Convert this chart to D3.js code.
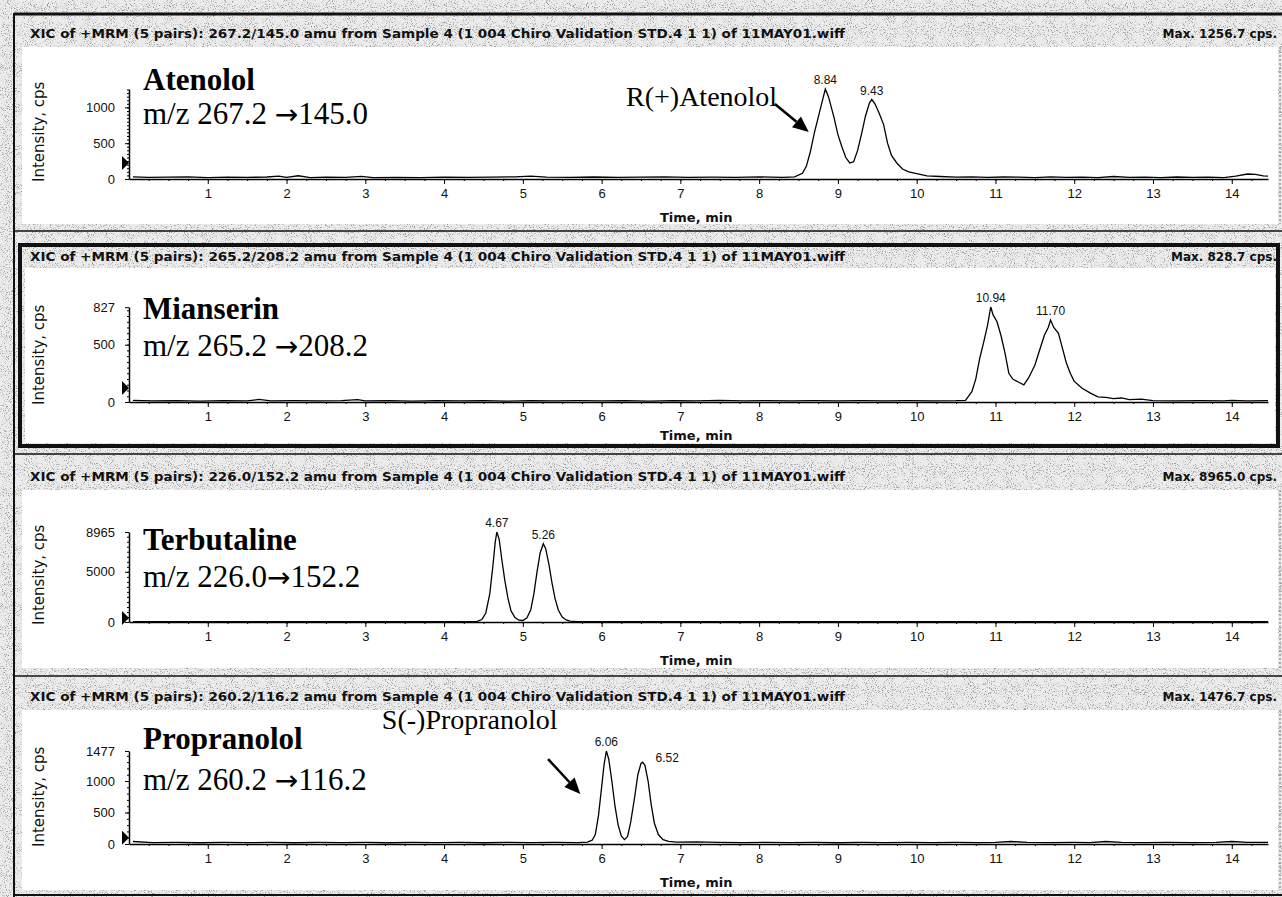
<!DOCTYPE html>
<html>
<head>
<meta charset="utf-8">
<script src="https://cdn.jsdelivr.net/npm/d3@7"></script>
<style>
  html, body { margin: 0; padding: 0; background: #fff; }
  svg { display: block; }
  .tick text { font-family: "Liberation Sans", Arial, sans-serif; font-size: 13px; fill: #111; }
  .tick line, .domain { stroke: #000; }
</style>
</head>
<body>
<div id="chart"></div>
<script>
// ---- data ----
const compounds = ["Atenolol", "Mianserin", "Terbutaline", "Propranolol"];
const transitions = ["m/z 267.2 \u2192145.0", "m/z 265.2 \u2192208.2", "m/z 226.0\u2192152.2", "m/z 260.2 \u2192116.2"];
const headerPairs = ["267.2/145.0", "265.2/208.2", "226.0/152.2", "260.2/116.2"];
const maxCps = [1256.7, 828.7, 8965.0, 1476.7];
const yTickValues = [[0, 500, 1000], [0, 500, 827], [0, 5000, 8965], [0, 500, 1000, 1477]];
const yMinorStep = [50, 50, 500, 100];
const timeTicks = [1, 2, 3, 4, 5, 6, 7, 8, 9, 10, 11, 12, 13, 14];
const timeMax = 14.46;
const thresholds = [223, 122, 400, 100];
const peakTimes = [[8.84, 9.43], [10.94, 11.70], [4.67, 5.26], [6.06, 6.52]];

const atenolol = [[0.05,30],[0.25,22],[0.5,25],[0.75,30],[1.0,20],[1.25,25],[1.5,22],[1.75,28],[1.9,40],[2.0,22],[2.15,45],[2.3,20],[2.5,25],[2.75,22],[2.95,38],[3.1,20],[3.4,24],[3.7,20],[4.0,26],[4.3,22],[4.6,25],[4.9,30],[5.1,40],[5.3,25],[5.6,22],[5.9,28],[6.2,22],[6.5,25],[6.8,30],[7.1,22],[7.4,25],[7.7,22],[8.0,30],[8.15,25],[8.3,22],[8.45,30],[8.55,80],[8.6,180],[8.65,380],[8.7,640],[8.75,860],[8.8,1080],[8.84,1256.7],[8.88,1150],[8.95,860],[9.0,620],[9.05,450],[9.1,300],[9.15,225],[9.2,240],[9.25,400],[9.3,630],[9.35,880],[9.4,1060],[9.43,1110],[9.47,1050],[9.52,930],[9.58,760],[9.63,500],[9.68,330],[9.75,220],[9.82,140],[9.9,100],[10.0,75],[10.13,45],[10.3,35],[10.5,25],[10.7,30],[10.9,22],[11.1,28],[11.3,25],[11.5,20],[11.7,30],[11.9,22],[12.1,25],[12.3,20],[12.5,35],[12.7,22],[12.9,25],[13.1,20],[13.3,28],[13.5,22],[13.7,25],[13.9,20],[14.05,40],[14.2,70],[14.3,65],[14.4,45],[14.46,40]];
const mianserin = [[0.05,15],[0.3,10],[0.6,12],[0.9,8],[1.2,12],[1.5,10],[1.65,22],[1.8,10],[2.1,12],[2.4,10],[2.7,12],[2.9,20],[3.0,10],[3.3,12],[3.6,8],[3.9,12],[4.2,10],[4.5,12],[4.8,8],[5.1,12],[5.4,10],[5.7,12],[6.0,10],[6.3,12],[6.6,8],[6.9,12],[7.2,10],[7.5,14],[7.8,10],[8.1,12],[8.4,10],[8.7,12],[9.0,10],[9.3,12],[9.6,10],[9.9,12],[10.2,10],[10.5,12],[10.62,15],[10.7,90],[10.75,200],[10.8,380],[10.85,520],[10.9,670],[10.94,828.7],[10.97,760],[11.02,700],[11.07,580],[11.12,430],[11.17,250],[11.22,200],[11.3,170],[11.36,150],[11.42,210],[11.5,320],[11.55,430],[11.62,580],[11.67,650],[11.70,715],[11.74,650],[11.8,600],[11.85,470],[11.9,340],[11.95,250],[12.0,180],[12.05,150],[12.1,120],[12.2,80],[12.3,45],[12.4,40],[12.5,30],[12.6,35],[12.7,20],[12.85,25],[13.0,12],[13.3,10],[13.6,12],[13.9,10],[14.0,15],[14.2,10],[14.46,12]];
const terbutaline = [[0.05,40],[0.4,30],[0.8,35],[1.2,30],[1.6,35],[2.0,30],[2.4,35],[2.8,30],[3.2,35],[3.6,30],[4.0,35],[4.3,30],[4.42,60],[4.48,250],[4.53,900],[4.58,2800],[4.62,5600],[4.65,8000],[4.67,8965],[4.70,8200],[4.73,6400],[4.77,4200],[4.81,2400],[4.85,1100],[4.90,450],[4.95,180],[5.00,150],[5.05,400],[5.10,1200],[5.14,2800],[5.18,5000],[5.22,6900],[5.26,7800],[5.29,7300],[5.33,5800],[5.37,3900],[5.41,2300],[5.45,1200],[5.50,500],[5.55,200],[5.60,80],[5.70,40],[6.0,30],[6.5,35],[7.0,30],[7.5,35],[8.0,30],[8.5,35],[9.0,30],[9.5,35],[10.0,30],[10.5,35],[11.0,30],[11.5,35],[12.0,30],[12.5,35],[13.0,30],[13.5,35],[14.0,30],[14.46,35]];
const propranolol = [[0.05,40],[0.3,22],[0.6,25],[0.9,20],[1.2,25],[1.5,22],[1.8,25],[2.1,20],[2.4,25],[2.7,22],[3.0,25],[3.3,20],[3.6,25],[3.9,22],[4.2,25],[4.5,20],[4.8,25],[5.1,22],[5.4,25],[5.7,22],[5.82,30],[5.88,60],[5.92,150],[5.96,450],[6.00,900],[6.03,1250],[6.06,1476.7],[6.09,1350],[6.13,1000],[6.17,600],[6.21,300],[6.25,130],[6.29,70],[6.33,120],[6.37,350],[6.42,750],[6.46,1100],[6.50,1280],[6.52,1300],[6.55,1250],[6.59,1000],[6.63,620],[6.67,330],[6.72,150],[6.78,70],[6.85,40],[6.95,30],[7.2,35],[7.5,25],[7.8,22],[8.1,25],[8.4,22],[8.7,25],[9.0,20],[9.3,25],[9.6,22],[9.9,25],[10.2,22],[10.5,25],[10.8,22],[11.0,25],[11.2,40],[11.4,25],[11.7,22],[12.0,25],[12.2,22],[12.4,40],[12.6,25],[12.9,22],[13.2,25],[13.5,22],[13.8,25],[14.0,40],[14.2,25],[14.46,25]];
const traces = [atenolol, mianserin, terbutaline, propranolol];

// annotations in data units (time, cps)
const annotations = [
	{ panel: 0, text: "R(+)Atenolol", t: 6.31, v: 1020, from: [8.20, 1047], to: [8.63, 656] },
	{ panel: 3, text: "S(-)Propranolol", t: 3.21, v: 1830, from: [5.32, 1349], to: [5.73, 794] }
];

// ---- page layout (pixels) ----
const width = 1282;
const height = 897;
const layout = [
	{ zero: 179, top: 89, header: 38, white: [47, 224], name: 90, trans: 124, timeDy: 43 },
	{ zero: 402, top: 307, header: 261, white: [268, 443], name: 319, trans: 356, timeDy: 38 },
	{ zero: 622, top: 532, header: 481, white: [490, 668], name: 550, trans: 587, timeDy: 43 },
	{ zero: 844, top: 751, header: 701, white: [710, 890], name: 749, trans: 790, timeDy: 43 }
];

const x = d3.scaleLinear().domain([0, timeMax]).range([129, 1268]);

const svg = d3.select("#chart")
	.append("svg")
	.attr("width", width)
	.attr("height", height);

// scanned-paper speckle
const defs = svg.append("defs");
const speckle = defs.append("filter").attr("id", "speckle")
	.attr("x", 0).attr("y", 0).attr("width", "100%").attr("height", "100%");
speckle.append("feTurbulence")
	.attr("type", "fractalNoise").attr("baseFrequency", 0.95)
	.attr("numOctaves", 2).attr("seed", 7);
speckle.append("feColorMatrix")
	.attr("type", "matrix")
	.attr("values", "0 0 0 0 0  0 0 0 0 0  0 0 0 0 0  5 0 0 0 -2.75");

svg.append("rect").attr("width", width).attr("height", height).attr("fill", "#ececec");
svg.append("rect").attr("width", width).attr("height", height)
	.attr("fill", "#000").attr("opacity", 0.35).attr("filter", "url(#speckle)");

// white plot areas
layout.forEach((L, i) => {
	const inset = i === 1 ? 25 : 22;
	svg.append("rect")
		.attr("x", inset).attr("y", L.white[0])
		.attr("width", 1278 - inset - (i === 1 ? 3 : 0))
		.attr("height", L.white[1] - L.white[0])
		.attr("fill", "#fff");
});

// frame lines
const frame = svg.append("g").attr("stroke", "#111").attr("fill", "none");
frame.append("line").attr("x1", 14).attr("x2", 14).attr("y1", 13).attr("y2", 897).attr("stroke-width", 2);
frame.append("line").attr("x1", 14).attr("x2", 1282).attr("y1", 14).attr("y2", 14).attr("stroke-width", 3);
frame.append("line").attr("x1", 14).attr("x2", 1282).attr("y1", 231).attr("y2", 231).attr("stroke-width", 1.5);
frame.append("rect").attr("x", 20).attr("y", 245).attr("width", 1258).attr("height", 201).attr("stroke-width", 4);
frame.append("line").attr("x1", 14).attr("x2", 1282).attr("y1", 454).attr("y2", 454).attr("stroke-width", 1.5);
frame.append("line").attr("x1", 14).attr("x2", 1282).attr("y1", 676).attr("y2", 676).attr("stroke-width", 1.5);
frame.append("line").attr("x1", 14).attr("x2", 1282).attr("y1", 895).attr("y2", 895).attr("stroke-width", 2);
[[47, 224], [490, 668], [710, 890]].forEach(r => {
	frame.append("line").attr("x1", 1280).attr("x2", 1280).attr("y1", r[0]).attr("y2", r[1])
		.attr("stroke-width", 1).attr("stroke-dasharray", "2,2").attr("stroke", "#777");
});

const line = d3.line();
const serif = "'Liberation Serif', 'Times New Roman', serif";

layout.forEach((L, i) => {
	const g = svg.append("g").attr("class", "panel");
	const y = d3.scaleLinear().domain([0, maxCps[i]]).range([L.zero, L.top]);

	// header strip
	g.append("text")
		.attr("x", 30).attr("y", L.header)
		.attr("textLength", 815).attr("lengthAdjust", "spacingAndGlyphs")
		.style("font-family", "'DejaVu Sans', sans-serif").style("font-size", "12px").style("font-weight", "bold")
		.attr("fill", "#111")
		.text(`XIC of +MRM (5 pairs): ${headerPairs[i]} amu from Sample 4 (1 004 Chiro Validation STD.4 1 1) of 11MAY01.wiff`);
	g.append("text")
		.attr("x", 1277).attr("y", L.header)
		.attr("text-anchor", "end")
		.style("font-family", "'DejaVu Sans', sans-serif").style("font-size", "12px").style("font-weight", "bold")
		.attr("fill", "#111")
		.text(`Max. ${d3.format(".1f")(maxCps[i])} cps.`);

	// x axis, major + minor ticks
	g.append("g")
		.attr("transform", `translate(0,${L.zero})`)
		.call(d3.axisBottom(x).tickValues(timeTicks).tickSize(5).tickSizeOuter(0).tickPadding(5).tickFormat(d3.format("d")))
		.call(a => a.select(".domain").attr("stroke-width", 1.5));
	g.append("g")
		.attr("transform", `translate(0,${L.zero})`)
		.call(d3.axisBottom(x).tickValues(d3.range(0.25, timeMax, 0.25)).tickSize(2).tickFormat(""))
		.call(a => a.select(".domain").remove());

	g.append("text")
		.attr("x", 660).attr("y", L.zero + L.timeDy)
		.style("font-family", "'DejaVu Sans', sans-serif").style("font-size", "13px").style("font-weight", "bold")
		.attr("fill", "#111")
		.text("Time, min");

	// y axis
	g.append("g")
		.attr("transform", `translate(${x(0)},0)`)
		.call(d3.axisLeft(y).tickValues(yTickValues[i]).tickSize(4).tickSizeOuter(0).tickPadding(10).tickFormat(d3.format("d")))
		.call(a => a.select(".domain").attr("stroke-width", 1.5));
	g.append("g")
		.attr("transform", `translate(${x(0)},0)`)
		.call(d3.axisLeft(y).tickValues(d3.range(yMinorStep[i], maxCps[i], yMinorStep[i])).tickSize(2).tickFormat(""))
		.call(a => a.select(".domain").remove());

	g.append("text")
		.attr("transform", `translate(44,${L.zero + 3}) rotate(-90)`)
		.style("font-family", "'DejaVu Sans', sans-serif").style("font-size", "15px")
		.attr("fill", "#111")
		.text("Intensity, cps");

	// threshold marker
	const ty = y(thresholds[i]);
	g.append("path")
		.attr("d", `M${x(0) - 7},${ty - 7}L${x(0)},${ty}L${x(0) - 7},${ty + 7}Z`)
		.attr("fill", "#000");

	// chromatogram trace
	g.append("path")
		.datum(traces[i])
		.attr("fill", "none")
		.attr("stroke", "#000")
		.attr("stroke-width", 1.3)
		.attr("d", line.x(d => x(d[0])).y(d => y(d[1])));

	// peak retention-time labels
	peakTimes[i].forEach((t, k) => {
		const pt = traces[i].find(d => d[0] === t);
		const shifted = i === 3 && k === 1;
		g.append("text")
			.attr("x", x(t) + (shifted ? 13 : 0))
			.attr("y", y(pt[1]) - (shifted ? 0 : 5))
			.attr("text-anchor", shifted ? "start" : "middle")
			.style("font-family", "'Liberation Sans', Arial, sans-serif").style("font-size", "12px")
			.attr("fill", "#111")
			.text(d3.format(".2f")(t));
	});

	// compound name and transition (arrow glyph from a font that draws it full width)
	g.append("text")
		.attr("x", 143).attr("y", L.name)
		.style("font-family", serif).style("font-size", "31px").style("font-weight", "bold")
		.text(compounds[i]);
	const parts = transitions[i].split("\u2192");
	const tr = g.append("text")
		.attr("x", 143).attr("y", L.trans)
		.style("font-family", serif).style("font-size", "31px");
	tr.append("tspan").text(parts[0]);
	tr.append("tspan").style("font-family", "'DejaVu Sans', sans-serif").style("font-size", "28px").text("\u2192");
	tr.append("tspan").text(parts[1]);

	// enantiomer call-outs
	annotations.filter(a => a.panel === i).forEach(a => {
		g.append("text")
			.attr("x", x(a.t)).attr("y", y(a.v))
			.style("font-family", serif).style("font-size", "28px")
			.text(a.text);
		const x1 = x(a.from[0]), y1 = y(a.from[1]);
		const x2 = x(a.to[0]), y2 = y(a.to[1]);
		const ang = Math.atan2(y2 - y1, x2 - x1);
		const hl = 16, hw = 7;
		const bx = x2 - hl * Math.cos(ang), by = y2 - hl * Math.sin(ang);
		g.append("line")
			.attr("x1", x1).attr("y1", y1).attr("x2", bx).attr("y2", by)
			.attr("stroke", "#000").attr("stroke-width", 2.5);
		g.append("path")
			.attr("d", `M${x2},${y2}L${bx - hw * Math.sin(ang)},${by + hw * Math.cos(ang)}L${bx + hw * Math.sin(ang)},${by - hw * Math.cos(ang)}Z`)
			.attr("fill", "#000");
	});
});
</script>
</body>
</html>
